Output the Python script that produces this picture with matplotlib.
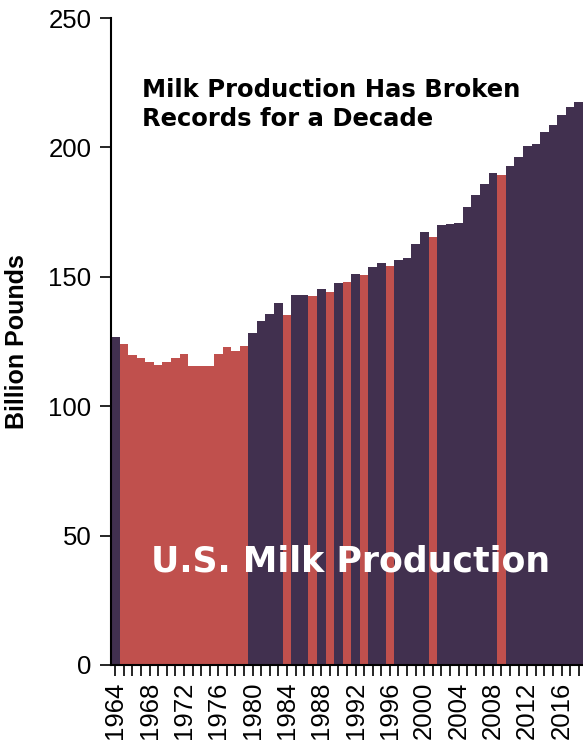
import matplotlib.pyplot as plt
import numpy as np

# US milk production, billion pounds, 1964-2018
years = np.arange(1964, 2019)
production = [
    126.9, 124.2, 119.9, 118.7, 117.2, 116.1, 117.0, 118.5, 120.0, 115.5,
    115.4, 115.4, 120.2, 122.7, 121.5, 123.4, 128.4, 132.8, 135.5, 139.7,
    135.4, 143.1, 143.1, 142.7, 145.2, 144.2, 147.7, 148.0, 150.9, 150.6,
    153.6, 155.3, 154.0, 156.6, 157.3, 162.7, 167.4, 165.3, 170.1, 170.3,
    170.9, 176.9, 181.8, 185.7, 190.0, 189.3, 192.9, 196.3, 200.6, 201.2,
    206.0, 208.6, 212.4, 215.5, 217.6,
]
# years that did not set a new record
non_record = list(range(1965, 1980)) + [1984, 1987, 1989, 1991, 1993, 1996, 2001, 2009]

record_color = "#41304f"
other_color = "#c0504d"

plt.rcParams['font.family'] = ['Liberation Sans', 'DejaVu Sans']

fig = plt.figure(figsize=(5.83, 7.42), dpi=100)
ax = fig.add_axes([111 / 583, 77 / 742, 1 - 111 / 583, 647 / 742])

colors = [other_color if y in non_record else record_color for y in years]
x = np.arange(len(years))
ax.bar(x, production, width=1.0, color=colors, linewidth=0)

ax.set_xlim(-0.5, len(years) - 0.5)
ax.set_ylim(0, 250)
ax.set_yticks(np.arange(0, 251, 50))
ax.set_xticks(x, minor=True)
ax.set_xticks(x[::4])
ax.set_xticklabels([str(y) for y in years[::4]], rotation=90)
ax.tick_params(axis='y', labelsize=18.5, length=8, width=1.2, pad=6)
ax.tick_params(axis='x', which='both', length=8, width=1.2, labelsize=18.5, pad=4)
ax.spines['top'].set_visible(False)
ax.spines['right'].set_visible(False)
ax.spines['left'].set_linewidth(1.5)
ax.spines['bottom'].set_linewidth(1.5)

ax.set_ylabel("Billion Pounds", fontsize=18, fontweight='bold', labelpad=14)

fig.text(142 / 583, 1 - 78 / 742, "Milk Production Has Broken\nRecords for a Decade",
         fontsize=17.5, fontweight='bold', family='DejaVu Sans', va='top', ha='left',
         linespacing=1.25)
fig.text(351 / 583, 1 - 572 / 742, "U.S. Milk Production", fontsize=25,
         fontweight='bold', family='DejaVu Sans', color='white', ha='center',
         va='baseline')

fig.savefig("out.png", dpi=100)
